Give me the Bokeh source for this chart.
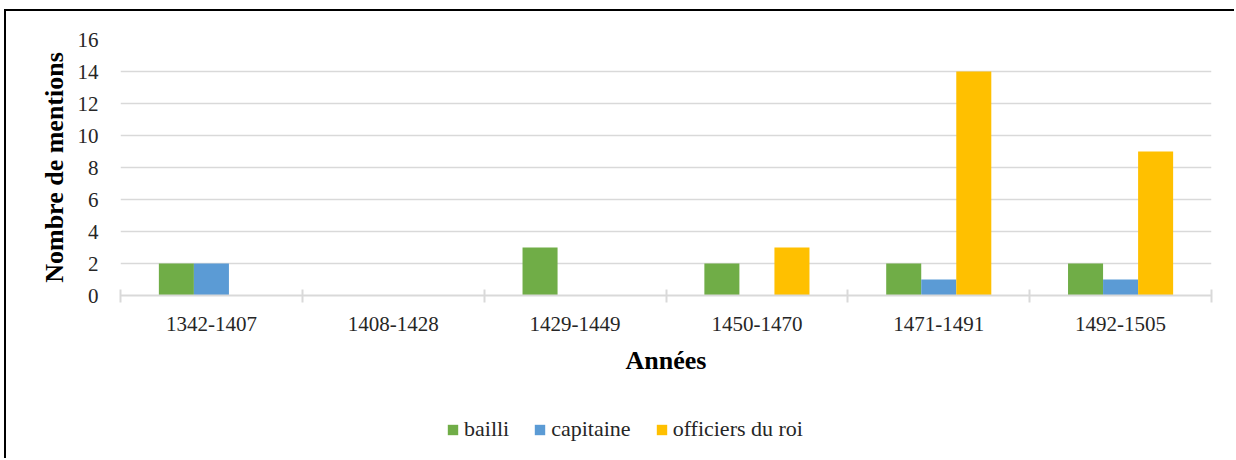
from bokeh.plotting import figure
from bokeh.layouts import column
from bokeh.models import Range1d, FixedTicker, Legend, LegendItem
from bokeh.embed import file_html
from bokeh.resources import INLINE

periods = ["1342-1407", "1408-1428", "1429-1449", "1450-1470", "1471-1491", "1492-1505"]
bailli = [2, 0, 3, 2, 2, 2]
capitaine = [2, 0, 0, 0, 1, 1]
officiers = [0, 0, 0, 3, 14, 9]
series_names = ["bailli", "capitaine", "officiers du roi"]
series_values = [bailli, capitaine, officiers]
colors = ["#70AD47", "#5B9BD5", "#FFC000"]
y_ticks = [0, 2, 4, 6, 8, 10, 12, 14, 16]

FONT = "Liberation Serif"
bw = 1 / (3 + 2.19)

p = figure(width=1228, height=374,
           x_range=Range1d(0, len(periods)), y_range=Range1d(0, 16),
           output_backend="svg", toolbar_location=None,
           min_border_left=114, min_border_right=23,
           min_border_top=28, min_border_bottom=90)
p.outline_line_color = None
p.background_fill_color = "white"
p.border_fill_color = "white"

for i, (vals, col) in enumerate(zip(series_values, colors)):
    xs = [j + 0.5 + (i - 1) * bw for j in range(len(periods))]
    p.vbar(x=xs, top=vals, width=bw, fill_color=col, line_color=None)

# grid
p.xgrid.grid_line_color = None
p.ygrid.grid_line_color = "#d9d9d9"
p.ygrid.grid_line_width = 1.5

# y axis
p.yaxis.ticker = FixedTicker(ticks=y_ticks)
p.yaxis.axis_line_color = None
p.yaxis.major_tick_line_color = None
p.yaxis.minor_tick_line_color = None
p.yaxis.major_label_text_font = FONT
p.yaxis.major_label_text_font_size = "21px"
p.yaxis.major_label_text_color = "#262626"
p.yaxis.major_label_standoff = 16
p.yaxis.axis_label = "Nombre de mentions"
p.yaxis.axis_label_text_font = FONT
p.yaxis.axis_label_text_font_size = "26px"
p.yaxis.axis_label_text_font_style = "bold"
p.yaxis.axis_label_text_color = "#000000"
p.yaxis.axis_label_standoff = 6

# x axis
centers = [j + 0.5 for j in range(len(periods))]
bounds = [j for j in range(len(periods) + 1)]
p.xaxis.ticker = FixedTicker(ticks=centers, minor_ticks=bounds)
p.xaxis.major_label_overrides = {c: lab for c, lab in zip(centers, periods)}
p.xaxis.axis_line_color = "#d9d9d9"
p.xaxis.axis_line_width = 2
p.xaxis.major_tick_line_color = None
p.xaxis.major_tick_out = 0
p.xaxis.major_tick_in = 0
p.xaxis.minor_tick_line_color = "#d9d9d9"
p.xaxis.minor_tick_line_width = 2
p.xaxis.minor_tick_in = 6
p.xaxis.minor_tick_out = 7
p.xaxis.major_label_text_font = FONT
p.xaxis.major_label_text_font_size = "21px"
p.xaxis.major_label_text_color = "#262626"
p.xaxis.major_label_standoff = 14
p.xaxis.axis_label = "Années"
p.xaxis.axis_label_text_font = FONT
p.xaxis.axis_label_text_font_size = "26px"
p.xaxis.axis_label_text_font_style = "bold"
p.xaxis.axis_label_text_color = "#000000"
p.xaxis.axis_label_standoff = 12

# legend strip (separate figure so the legend is not clipped by the plot frame);
# its renderers share the data but lie outside this strip's visible ranges
lf = figure(width=1228, height=73, x_range=Range1d(100, 106), y_range=Range1d(100, 116),
            output_backend="svg", toolbar_location=None,
            x_axis_location=None, y_axis_location=None,
            min_border_left=0, min_border_right=0,
            min_border_top=0, min_border_bottom=0)
lf.outline_line_color = None
lf.xgrid.visible = False
lf.ygrid.visible = False
leg_renderers = []
for i, (vals, col) in enumerate(zip(series_values, colors)):
    xs = [j + 0.5 + (i - 1) * bw for j in range(len(periods))]
    leg_renderers.append(lf.vbar(x=xs, top=vals, width=bw, fill_color=col, line_color=None))

legend = Legend(
    items=[LegendItem(label=n, renderers=[r]) for n, r in zip(series_names, leg_renderers)],
    orientation="horizontal", location=(326, 16),
    glyph_width=13, glyph_height=13, label_standoff=5, spacing=24,
    padding=0, margin=0, border_line_color=None, background_fill_alpha=0,
    label_text_font=FONT, label_text_font_size="22px", label_text_color="#262626",
)
lf.add_layout(legend, "center")

layout = column(p, lf, spacing=0)
layout.styles = {"border-left": "2px solid #000000", "border-top": "2px solid #000000",
                 "margin-left": "4px", "margin-top": "9px"}

open("out.html", "w").write(file_html(layout, INLINE))
